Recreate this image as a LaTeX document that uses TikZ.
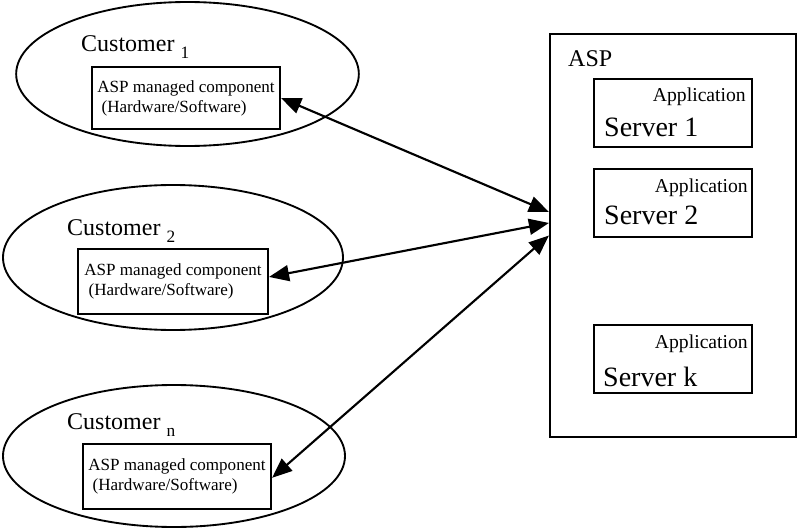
\documentclass[tikz,border=0pt]{standalone}
\usepackage{fontspec}
\setmainfont{Liberation Serif}
\usetikzlibrary{shapes.geometric,arrows.meta,positioning}

\tikzset{
    custarea/.style={draw, ellipse, line width=1.4pt, inner sep=0pt},
    compbox/.style={draw, rectangle, line width=1.6pt, align=left, inner xsep=2pt,
        minimum width=141pt, minimum height=48.75pt, font=\fontsize{12.8}{15}\selectfont},
    custlabel/.style={inner sep=0pt, font=\fontsize{18}{18}\selectfont},
    aspbox/.style={draw, rectangle, line width=1.6pt, minimum width=184.5pt, minimum height=302pt},
    srvbox/.style={draw, rectangle, line width=1.6pt, minimum width=118.5pt, minimum height=51pt},
    apptext/.style={inner sep=0pt, font=\fontsize{14.75}{15}\selectfont},
    srvtext/.style={inner sep=0pt, font=\fontsize{21}{21}\selectfont},
    link/.style={{Triangle[length=15pt,width=12pt]}-{Triangle[length=15pt,width=12pt]}, line width=1.6pt}
}
\newcommand{\idx}[1]{\raisebox{-5pt}{\fontsize{13}{13}\selectfont #1}}

\begin{document}
\begin{tikzpicture}[x=0.75pt, y=-0.75pt]
        \useasboundingbox (0,0) rectangle (800,528);
        % customers
        \node[custarea, minimum width=257pt, minimum height=108pt] (cust1) at (187.5,74) {};
        \node[custarea, minimum width=255pt, minimum height=108.75pt] (cust2) at (173,257.5) {};
        \node[custarea, minimum width=256.5pt, minimum height=106.5pt] (custn) at (174,456) {};
        \node[compbox, minimum height=46.5pt] (comp1) at (186,98) {ASP managed component\\\hspace*{0.25em}(Hardware/Software)};
        \node[compbox, minimum width=142.5pt] (comp2) at (173,281.5) {ASP managed component\\\hspace*{0.25em}(Hardware/Software)};
        \node[compbox] (compn) at (177,476.5) {ASP managed component\\\hspace*{0.25em}(Hardware/Software)};
        \node[custlabel, above=10.5pt of comp1.north west, anchor=base west, xshift=-7.5pt] (lab1) {Customer \idx{1}};
        \node[custlabel, above=9pt of comp2.north west, anchor=base west, xshift=-7.5pt] (lab2) {Customer \idx{2}};
        \node[custlabel, above=9.75pt of compn.north west, anchor=base west, xshift=-11.25pt] (labn) {Customer \idx{n}};
        % provider
        \node[aspbox] (asp) at (673,235.5) {};
        \node[custlabel, below right=24.75pt and 14.25pt of asp.north west, anchor=base west] (asplab) {ASP};
        \node[srvbox] (srv1) at (673,113) {};
        \node[srvbox, below=15pt of srv1] (srv2) {};
        \node[srvbox, below=64.6pt of srv2] (srvk) {};
        \node[apptext, below left=17.6pt and 5.25pt of srv1.north east, anchor=base east] (app1) {Application};
        \node[apptext, below left=18pt and 3.75pt of srv2.north east, anchor=base east] (app2) {Application};
        \node[apptext, below left=18pt and 3.75pt of srvk.north east, anchor=base east] (appk) {Application};
        \node[srvtext, below right=44.25pt and 8.25pt of srv1.north west, anchor=base west] (name1) {Server 1};
        \node[srvtext, below right=42pt and 8.25pt of srv2.north west, anchor=base west] (name2) {Server 2};
        \node[srvtext, below right=46.5pt and 7.5pt of srvk.north west, anchor=base west] (namek) {Server k};
        % links
        \draw[link] (comp1.east) -- ([yshift=17.6pt]asp.west);
        \draw[link] ([yshift=3.4pt]comp2.east) -- ([yshift=9.4pt]asp.west);
        \draw[link] ([yshift=-1pt]compn.east) -- (asp.west);
\end{tikzpicture}
\end{document}
